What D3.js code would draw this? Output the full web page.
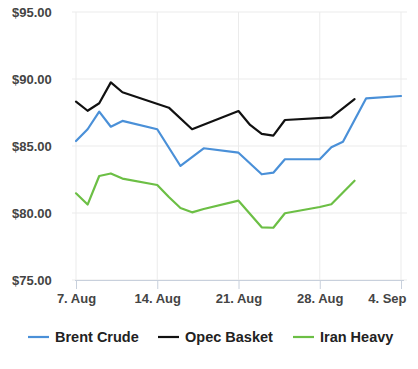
<!DOCTYPE html>
<html>
<head>
<meta charset="utf-8">
<script src="https://cdn.jsdelivr.net/npm/d3@7"></script>
<style>
  html, body { margin: 0; padding: 0; background: #fff; }
  svg { display: block; font-family: "Liberation Sans", Arial, sans-serif; }
</style>
</head>
<body>
<div id="chart"></div>
<script>
// trading days per series (Aug/Sep 2017)
var brentDates = ['2017-08-07', '2017-08-08', '2017-08-09', '2017-08-10', '2017-08-11', '2017-08-14',
    '2017-08-16', '2017-08-18', '2017-08-21', '2017-08-23', '2017-08-24', '2017-08-25', '2017-08-28',
    '2017-08-29', '2017-08-30', '2017-09-01', '2017-09-04'];
var brentValues = [85.37, 86.25, 87.56, 86.44, 86.87, 86.25, 83.51, 84.83, 84.50, 82.89, 83.01, 84.01, 84.01,
    84.90, 85.32, 88.56, 88.73];

var opecDates = ['2017-08-07', '2017-08-08', '2017-08-09', '2017-08-10', '2017-08-11', '2017-08-15',
    '2017-08-17', '2017-08-21', '2017-08-22', '2017-08-23', '2017-08-24', '2017-08-25', '2017-08-29',
    '2017-08-31'];
var opecValues = [88.31, 87.63, 88.19, 89.75, 89.01, 87.86, 86.25, 87.61, 86.57, 85.90, 85.77, 86.94, 87.14,
    88.49];

var iranDates = ['2017-08-07', '2017-08-08', '2017-08-09', '2017-08-10', '2017-08-11', '2017-08-14',
    '2017-08-15', '2017-08-16', '2017-08-17', '2017-08-18', '2017-08-21', '2017-08-23', '2017-08-24',
    '2017-08-25', '2017-08-28', '2017-08-29', '2017-08-31'];
var iranValues = [81.47, 80.63, 82.76, 82.95, 82.57, 82.09, 81.19, 80.37, 80.05, 80.30, 80.92, 78.93, 78.90,
    79.98, 80.45, 80.65, 82.41];

var seriesNames = ['Brent Crude', 'Opec Basket', 'Iran Heavy'];
var seriesColors = ['#4a90d8', '#111111', '#6cbf45'];

var xTickDates = ['2017-08-07', '2017-08-14', '2017-08-21', '2017-08-28', '2017-09-04'];
var yTicks = [75, 80, 85, 90, 95];

var width = 418, height = 369;
var parse = d3.timeParse('%Y-%m-%d');

var svg = d3.select('#chart').append('svg')
    .attr('width', width)
    .attr('height', height);

var x = d3.scaleTime()
    .domain([parse('2017-08-07'), parse('2017-09-04')])
    .range([76, 401]);

var y = d3.scaleLinear()
    .domain([75, 95])
    .range([280, 12]);

var gridLeft = 72, gridRight = 407;

// horizontal grid
svg.append('g').attr('class', 'y-grid')
    .selectAll('line')
    .data(yTicks)
    .enter().append('line')
    .attr('x1', gridLeft)
    .attr('x2', gridRight)
    .attr('y1', function(d) { return y(d); })
    .attr('y2', function(d) { return y(d); })
    .attr('stroke', '#ebebeb')
    .attr('stroke-width', 1);

// vertical grid
svg.append('g').attr('class', 'x-grid')
    .selectAll('line')
    .data(xTickDates.map(parse))
    .enter().append('line')
    .attr('x1', function(d) { return x(d); })
    .attr('x2', function(d) { return x(d); })
    .attr('y1', y(95))
    .attr('y2', y(75))
    .attr('stroke', '#ebebeb')
    .attr('stroke-width', 1);

// y labels
svg.append('g').attr('class', 'y-labels')
    .selectAll('text')
    .data(yTicks)
    .enter().append('text')
    .attr('x', 12)
    .attr('y', function(d) { return y(d); })
    .attr('dy', '0.35em')
    .attr('fill', '#444')
    .attr('font-size', 13)
    .attr('font-weight', 'bold')
    .text(function(d) { return '$' + d.toFixed(2); });

// x axis
var xAxis = d3.axisBottom(x)
    .tickValues(xTickDates.map(parse))
    .tickSize(9)
    .tickPadding(5)
    .tickFormat(function(d) { return d3.timeFormat('%-d. %b')(d); });

var axisG = svg.append('g')
    .attr('class', 'x-axis')
    .attr('transform', 'translate(0,' + y(75) + ')')
    .call(xAxis);
axisG.select('.domain')
    .attr('d', 'M75,0.5H404')
    .attr('stroke', '#c8d0dc');
axisG.selectAll('.tick line').attr('stroke', '#c8d0dc');
axisG.selectAll('.tick text')
    .attr('fill', '#444')
    .attr('font-size', 13)
    .attr('font-weight', 'bold')
    .attr('font-family', '"Liberation Sans", Arial, sans-serif');
// keep the last label inside the frame
axisG.selectAll('.tick text')
    .filter(function(d, i, nodes) { return i === nodes.length - 1; })
    .attr('text-anchor', 'end')
    .attr('x', 5);

// lines
var line = d3.line()
    .x(function(d) { return x(d.date); })
    .y(function(d) { return y(d.value); });

function toPoints(dates, values) {
    return dates.map(function(d, i) { return { date: parse(d), value: values[i] }; });
}

var series = [
    toPoints(brentDates, brentValues),
    toPoints(opecDates, opecValues),
    toPoints(iranDates, iranValues)
];

svg.append('g').attr('class', 'lines')
    .selectAll('path')
    .data(series)
    .enter().append('path')
    .attr('d', line)
    .attr('fill', 'none')
    .attr('stroke', function(d, i) { return seriesColors[i]; })
    .attr('stroke-width', 2.2)
    .attr('stroke-linejoin', 'round')
    .attr('stroke-linecap', 'round');

// legend
var legendX = [28, 158, 293];
var legend = svg.append('g').attr('class', 'legend')
    .selectAll('g')
    .data(seriesNames)
    .enter().append('g')
    .attr('transform', function(d, i) { return 'translate(' + legendX[i] + ',337)'; });

legend.append('line')
    .attr('x1', 0)
    .attr('x2', 21)
    .attr('stroke', function(d, i) { return seriesColors[i]; })
    .attr('stroke-width', 2.2);

legend.append('text')
    .attr('x', 27)
    .attr('dy', '0.35em')
    .attr('fill', '#222')
    .attr('font-size', 14.5)
    .attr('font-weight', 'bold')
    .text(function(d) { return d; });
</script>
</body>
</html>
